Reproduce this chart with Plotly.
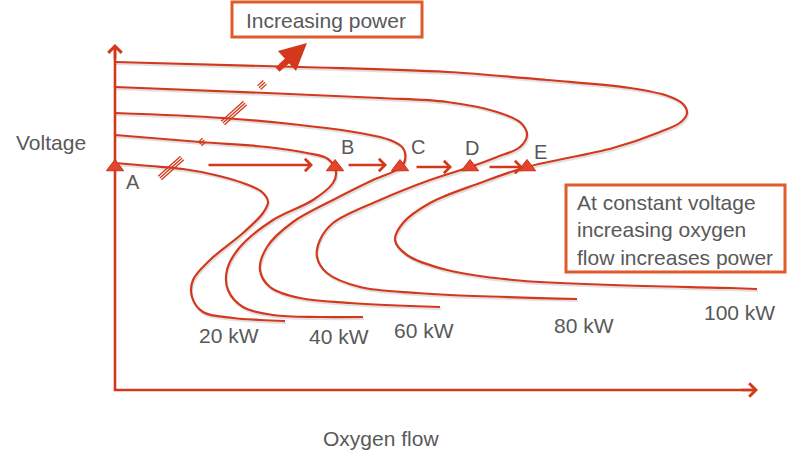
import plotly.graph_objects as go
import math

# ---- data (schematic curves; units = oxygen flow / voltage in drawing space) ----
power_labels = ["20 kW", "40 kW", "60 kW", "80 kW", "100 kW"]

c20_x = [115, 150, 183, 215, 243, 262, 268, 263, 243, 210, 193, 192, 203, 233, 260, 285]
c20_y = [163, 166, 169, 175, 183, 192, 202, 213, 233, 260, 280, 297, 312, 318, 320, 321]

c40_x = [115, 200, 267, 307, 328, 336, 333, 313, 273, 240, 227, 228, 243, 273, 320, 363]
c40_y = [135, 142, 147, 153, 159, 172, 183, 200, 220, 247, 270, 290, 307, 315, 317, 317]

c60_x = [115, 223, 300, 360, 390, 403, 405, 400, 373, 333, 293, 267, 260, 270, 300, 350, 440]
c60_y = [113, 118, 125, 133, 140, 148, 160, 168, 180, 200, 222, 247, 270, 287, 298, 303, 307]

c80_x = [115, 267, 380, 447, 497, 521, 527, 520, 497, 470, 430, 380, 333, 320, 317, 327, 360, 417, 450, 577]
c80_y = [87, 93, 98, 102, 112, 123, 135, 147, 157, 167, 180, 200, 223, 240, 257, 273, 287, 293, 295, 299]

c100_x = [115, 300, 447, 547, 630, 668, 683, 687, 681, 660, 613, 527, 480, 430, 403, 395, 407, 447, 513, 613, 730, 757]
c100_y = [62, 67, 72, 80, 88, 96, 104, 113, 122, 132, 148, 167, 183, 203, 223, 240, 255, 270, 280, 285, 288, 289]

curves_x = [c20_x, c40_x, c60_x, c80_x, c100_x]
curves_y = [c20_y, c40_y, c60_y, c80_y, c100_y]

label_x = [229, 339, 424, 584, 739]
label_y = [335, 336, 330, 325, 312]

point_names = ["A", "B", "C", "D", "E"]
point_x = [115, 335, 400, 470, 527]
point_y = [167, 167, 167, 167, 167]
point_lbl_x = [133, 347, 418, 472, 540]
point_lbl_y = [182, 147, 147, 148, 152]

step_x0 = [207, 347, 415, 488]
step_x1 = [313, 387, 452, 523]
step_y = [165, 165, 167, 167]

hatch_x = [171, 202, 234, 262, 288]
hatch_y = [168, 142, 113, 85, 60]
hatch_len = [30, 6, 30, 8, 18]

RED = "#d4381c"
BOX = "#e05a2b"
TXT = "#595959"
FONT = "Liberation Sans, Arial, sans-serif"

fig = go.Figure()

# curves (with subtle shadow)
for cx, cy in zip(curves_x, curves_y):
    fig.add_trace(go.Scatter(x=[v + 1 for v in cx], y=[v + 2 for v in cy], mode="lines",
                             line=dict(color="rgba(0,0,0,0.12)", width=2.2, shape="spline", smoothing=1.0),
                             hoverinfo="skip", showlegend=False))
for cx, cy, name in zip(curves_x, curves_y, power_labels):
    fig.add_trace(go.Scatter(x=cx, y=cy, mode="lines", name=name,
                             line=dict(color=RED, width=2.2, shape="spline", smoothing=1.0),
                             showlegend=False))

# hatch (break) marks
hx, hy = [], []
for cx, cy, L in zip(hatch_x, hatch_y, hatch_len):
    dx, dy = math.cos(math.radians(42)), -math.sin(math.radians(42))
    px, py = -dy, dx
    for k in (-2.4, 0, 2.4):
        hx += [cx - dx * L / 2 + px * k, cx + dx * L / 2 + px * k, None]
        hy += [cy - dy * L / 2 + py * k, cy + dy * L / 2 + py * k, None]
fig.add_trace(go.Scatter(x=hx, y=hy, mode="lines", line=dict(color=RED, width=1.3),
                         hoverinfo="skip", showlegend=False))

# axes (drawn as lines)
fig.add_trace(go.Scatter(x=[115, 115, 752], y=[48, 390, 390], mode="lines",
                         line=dict(color=RED, width=2.6), hoverinfo="skip", showlegend=False))

# operating points
fig.add_trace(go.Scatter(x=point_x, y=point_y, mode="markers", text=point_names,
                         marker=dict(symbol="triangle-up", size=15, color="#e4452a",
                                     line=dict(color="#c9301a", width=1)),
                         showlegend=False))

annotations = []
# axis arrowheads
annotations.append(dict(x=115, y=44, ax=115, ay=60, xref="x", yref="y", axref="x", ayref="y",
                        showarrow=True, arrowhead=4, arrowsize=1.0, arrowwidth=2.6, arrowcolor=RED, text=""))
annotations.append(dict(x=758, y=390, ax=740, ay=390, xref="x", yref="y", axref="x", ayref="y",
                        showarrow=True, arrowhead=4, arrowsize=1.0, arrowwidth=2.6, arrowcolor=RED, text=""))
# step arrows
for x0, x1, y in zip(step_x0, step_x1, step_y):
    annotations.append(dict(x=x1, y=y, ax=x0, ay=y, xref="x", yref="y", axref="x", ayref="y",
                            showarrow=True, arrowhead=4, arrowsize=1.0, arrowwidth=2.4, arrowcolor=RED, text=""))
# big "increasing power" arrow
annotations.append(dict(x=307, y=43, ax=276, ay=71, xref="x", yref="y", axref="x", ayref="y",
                        showarrow=True, arrowhead=2, arrowsize=0.9, arrowwidth=6, arrowcolor=RED, text=""))

# point letters
for n, x, y in zip(point_names, point_lbl_x, point_lbl_y):
    annotations.append(dict(x=x, y=y, xref="x", yref="y", text=n, showarrow=False,
                            font=dict(family=FONT, size=20, color=TXT)))
# power labels
for n, x, y in zip(power_labels, label_x, label_y):
    annotations.append(dict(x=x, y=y, xref="x", yref="y", text=n, showarrow=False,
                            font=dict(family=FONT, size=21, color=TXT)))
# axis titles
annotations.append(dict(x=51, y=142, xref="x", yref="y", text="Voltage", showarrow=False,
                        font=dict(family=FONT, size=21, color=TXT)))
annotations.append(dict(x=381, y=438, xref="x", yref="y", text="Oxygen flow", showarrow=False,
                        font=dict(family=FONT, size=21, color=TXT)))
# boxes text
annotations.append(dict(x=326, y=20, xref="x", yref="y", text="Increasing power", showarrow=False,
                        font=dict(family=FONT, size=21, color=TXT)))
annotations.append(dict(x=575, y=230, xref="x", yref="y", xanchor="left",
                        text="At constant voltage<br>increasing oxygen<br>flow increases power",
                        align="left", showarrow=False,
                        font=dict(family=FONT, size=21, color=TXT)))

shapes = [
    dict(type="rect", xref="x", yref="y", x0=232, x1=422, y0=2, y1=37,
         line=dict(color=BOX, width=3), fillcolor="rgba(255,255,255,0)", layer="above"),
    dict(type="rect", xref="x", yref="y", x0=566, x1=785, y0=185, y1=272,
         line=dict(color=BOX, width=3), fillcolor="rgba(255,255,255,0)", layer="above"),
]

fig.update_layout(
    width=790, height=457,
    margin=dict(l=0, r=0, t=0, b=0),
    paper_bgcolor="white", plot_bgcolor="white",
    xaxis=dict(range=[0, 790], visible=False, fixedrange=True),
    yaxis=dict(range=[457, 0], visible=False, fixedrange=True),
    annotations=annotations, shapes=shapes,
)

fig.write_html("out.html", config={"displayModeBar": False},
               post_script="document.body.style.margin='0';")
